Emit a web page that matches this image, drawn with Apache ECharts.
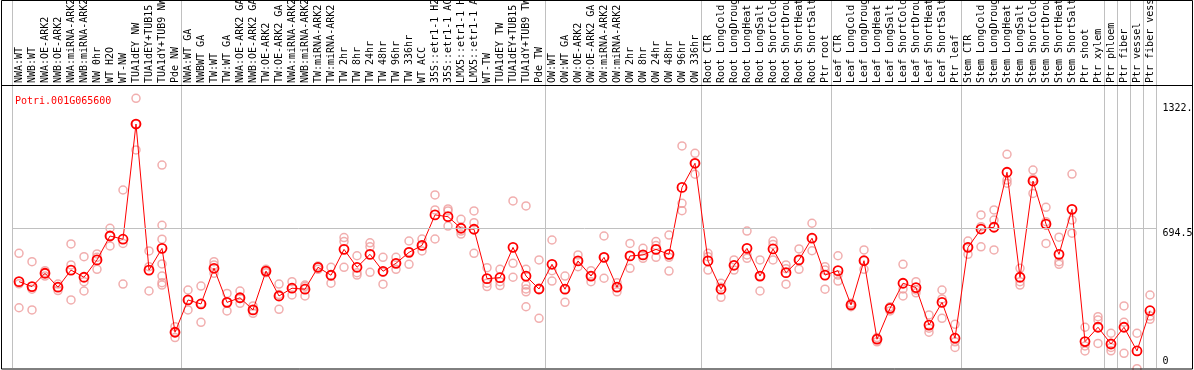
<!DOCTYPE html>
<html><head><meta charset="utf-8">
<script src="https://cdn.jsdelivr.net/npm/echarts@6/dist/echarts.min.js"></script>
<style>html,body{margin:0;padding:0;background:#fff}#c{width:1194px;height:370px}</style>
</head><body><div id="c"></div>
<script>
const titleText = 'Potri.001G065600';
const categories = [
'NWA:WT','NWB:WT','NWA:OE-ARK2','NWB:OE-ARK2','NWA:miRNA-ARK2','NWB:miRNA-ARK2','NW 0hr','WT H2O','WT-NW','TUA1dEY NW','TUA1dEY+TUB15 NW','TUA1dY+TUB9 NW','Pde NW',
'NWA:WT GA','NWBWT GA','TW:WT','TW:WT GA','NWA:OE-ARK2 GA','NWB:OE-ARK2 GA','TW:OE-ARK2','TW:OE-ARK2 GA','NWA:miRNA-ARK2','NWB:miRNA-ARK2','TW:miRNA-ARK2','TW:miRNA-ARK2','TW 2hr','TW 8hr','TW 24hr','TW 48hr','TW 96hr','TW 336hr','WT ACC','35S::etr1-1 H2O','35S::etr1-1 ACC','LMX5::etr1-1 H2O','LMX5::etr1-1 ACC','WT-TW','TUA1dEY TW','TUA1dEY+TUB15 TW','TUA1dY+TUB9 TW','Pde TW',
'OW:WT','OW:WT GA','OW:OE-ARK2','OW:OE-ARK2 GA','OW:miRNA-ARK2','OW:miRNA-ARK2','OW 2hr','OW 8hr','OW 24hr','OW 48hr','OW 96hr','OW 336hr',
'Root CTR','Root LongCold','Root LongDrought','Root LongHeat','Root LongSalt','Root ShortCold','Root ShortDrought','Root ShortHeat','Root ShortSalt','Ptr root',
'Leaf CTR','Leaf LongCold','Leaf LongDrought','Leaf LongHeat','Leaf LongSalt','Leaf ShortCold','Leaf ShortDrought','Leaf ShortHeat','Leaf ShortSalt','Ptr leaf',
'Stem CTR','Stem LongCold','Stem LongDrought','Stem LongHeat','Stem LongSalt','Stem ShortCold','Stem ShortDrought','Stem ShortHeat','Stem ShortSalt','Ptr shoot','Ptr xylem',
'Ptr phloem','Ptr fiber','Ptr vessel','Ptr fiber vessel'];
const means = [
425,400,467,397,483,447,534,654,638,1216,483,592,171,
333,313,492,321,344,283,478,353,392,387,497,457,587,497,562,477,517,572,607,760,751,693,688,440,445,597,453,388,
512,387,529,453,547,397,554,559,587,562,898,1019,
529,387,507,592,453,589,470,534,643,458,
480,308,530,136,291,417,395,207,321,141,
597,689,698,974,447,930,714,562,788,124,196,
112,196,77,279];
const replicates = [
[567,414,294],[525,387,283],[480,467,453],[413,397,380],[614,509,333],[550,425,378],[564,547,487],[693,654,604],[885,617,413],[1345,1216,1086],[579,500,378],[1010,708,638,514,453,420,408],[199,171,144],
[383,333,283],[403,315,221],[525,509,467],[366,321,278],[378,340,316],[303,283,266],[487,478,470],[413,360,286],[425,392,358],[408,400,353],[503,497,487],[497,457,417],[646,626,497],[555,470,458],[620,600,472],[547,472,412],[547,517,487],[629,575,512],[639,605,579],[860,785,639],[790,780,704],[738,679,664],[780,721,567],[495,417,400],[487,425,405],[830,517,447],[805,487,408,388,374,299],[534,388,241],
[634,480,428],[453,387,321],[559,529,500],[480,453,425],[654,547,442],[420,397,374],[617,554,492],[592,559,542],[626,606,547],[659,547,478],[1106,818,781],[1069,1019,964],
[567,550,483],[417,397,346],[534,507,483],[679,559,542],[534,453,378],[629,612,534],[509,490,412],[589,534,487],[718,643,580],[500,483,387],
[555,458,428],[316,308,299],[584,530,487],[144,136,123],[299,291,278],[512,388,353],[425,383,369],[258,191,171],[383,338,241],[211,123,95],
[629,597,562],[760,701,600],[785,734,584],[1064,935,919],[492,425,408],[985,940,868],[798,726,617],[648,525,512],[965,734,668],[196,102,77],[249,232,115],
[166,95,78],[303,221,65],[166,-12],[358,252,236]];
const groupStarts = [0,13,41,53,63,73,84,85,86,87];
const refLineValue = 694.5;
const yTickValues = [694.5, 1322];
const yTickLabels = ['694.5', '1322.'];
const yZeroValues = [0];
const yZeroLabels = ['0'];
const yMin = -8.5, yMax = 1412;

const FONT = 'DejaVu Sans Mono';
const sepLine = {show:true, interval:(i)=>groupStarts.indexOf(i)>=0, lineStyle:{color:'#c0c0c0', width:1}};
const scatterData = [];
replicates.forEach((arr,i)=>arr.forEach(v=>scatterData.push([i,v])));

const chart = echarts.init(document.getElementById('c'), null, {renderer:'canvas'});
chart.setOption({
  animation:false,
  backgroundColor:'#fff',
  title:{text:titleText, left:10, top:91, textStyle:{color:'#ff0000', fontSize:10, fontFamily:FONT, fontWeight:'normal'}},
  grid:[
    {left:12.5, right:37.5, top:85, bottom:2, outerBoundsMode:'none', containLabel:false},
    {left:12.5, right:37.5, top:0, height:85, outerBoundsMode:'none', containLabel:false}
  ],
  xAxis:[
    {type:'category', gridIndex:0, data:categories, position:'top', boundaryGap:true,
     axisLine:{show:false}, axisTick:{show:false},
     axisLabel:{interval:0, rotate:90, margin:2, color:'#000', fontSize:10, fontFamily:FONT, hideOverlap:false},
     splitLine:sepLine},
    {type:'category', gridIndex:1, data:categories, boundaryGap:true,
     axisLine:{show:false}, axisTick:{show:false}, axisLabel:{show:false},
     splitLine:sepLine}
  ],
  yAxis:[
    {type:'value', gridIndex:0, position:'right', min:yMin, max:yMax,
     axisLine:{show:false}, axisTick:{show:false}, splitLine:{show:false},
     axisLabel:{customValues:yTickValues, margin:6, verticalAlign:'top', align:'left', color:'#000', fontSize:10, fontFamily:FONT,
       formatter:(v)=>{const k=yTickValues.indexOf(v); return k>=0?yTickLabels[k]:'';}}},
    {type:'value', gridIndex:0, position:'right', min:yMin, max:yMax,
     axisLine:{show:false}, axisTick:{show:false}, splitLine:{show:false},
     axisLabel:{customValues:yZeroValues, margin:6, verticalAlign:'bottom', align:'left', color:'#000', fontSize:10, fontFamily:FONT,
       formatter:(v)=>{const k=yZeroValues.indexOf(v); return k>=0?yZeroLabels[k]:'';}}},
    {type:'value', gridIndex:1, show:false, min:0, max:1}
  ],
  series:[
    {type:'scatter', xAxisIndex:0, yAxisIndex:0, data:scatterData, symbol:'circle', symbolSize:8, clip:false, z:2,
     itemStyle:{color:'rgba(0,0,0,0)', borderColor:'#ee9a9a', borderWidth:1.5},
     markLine:{silent:true, symbol:'none', label:{show:false}, lineStyle:{color:'#c0c0c0', type:'solid', width:1},
       emphasis:{disabled:true}, data:[{yAxis:refLineValue}]}},
    {type:'line', xAxisIndex:0, yAxisIndex:0, data:means, symbol:'circle', symbolSize:9, z:3,
     lineStyle:{color:'#ff0000', width:1},
     itemStyle:{color:'rgba(0,0,0,0)', borderColor:'#ff0000', borderWidth:1.8}}
  ],
  graphic:[
    {type:'rect', z:100, silent:true, shape:{x:1.5, y:0.5, width:1191, height:368.5}, style:{fill:null, stroke:'#000', lineWidth:1}},
    {type:'line', z:100, silent:true, shape:{x1:1, y1:85.5, x2:1193, y2:85.5}, style:{stroke:'#000', lineWidth:1}}
  ]
});
</script></body></html>
